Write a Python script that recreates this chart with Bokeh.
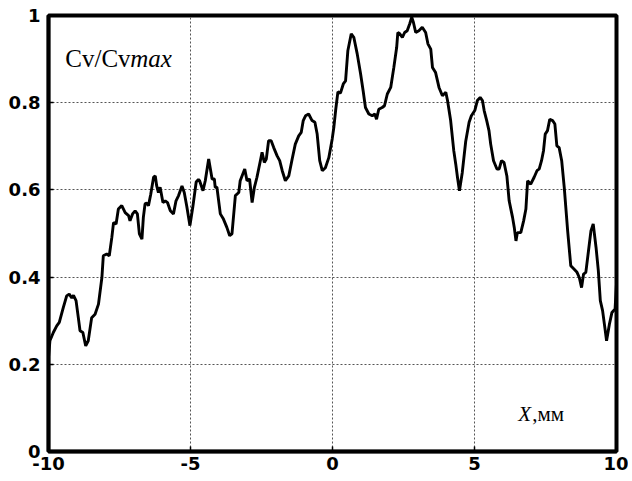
from bokeh.plotting import figure
from bokeh.models import Range1d, FixedTicker, Label
from bokeh.embed import file_html
from bokeh.resources import INLINE

x_mm = [-10, -9.95, -9.83, -9.71, -9.62, -9.48, -9.36, -9.27, -9.18, -9.12, -9.03, -8.95, -8.89, -8.79, -8.69, -8.60,
        -8.48, -8.36, -8.24, -8.12, -8.07, -7.95, -7.86, -7.77, -7.71, -7.62, -7.54, -7.42, -7.30, -7.18, -7.13, -7.04,
        -6.95, -6.87, -6.80, -6.71, -6.66, -6.60, -6.54, -6.48, -6.40, -6.30, -6.24, -6.19, -6.13, -6.07, -5.97, -5.89,
        -5.81, -5.71, -5.60, -5.51, -5.42, -5.30, -5.22, -5.13, -5.02, -4.92, -4.80, -4.72, -4.68,
        -4.56, -4.48, -4.36, -4.24, -4.16, -4.13, -4.07, -3.95, -3.84, -3.72, -3.62, -3.54, -3.42, -3.30, -3.25, -3.09,
        -3.01, -2.92, -2.83, -2.75, -2.66, -2.54, -2.48, -2.40, -2.33, -2.25, -2.16, -2.07, -1.95, -1.86, -1.77, -1.66,
        -1.54, -1.42, -1.31, -1.19, -1.10, -1.03, -0.95, -0.84, -0.72, -0.62, -0.54, -0.45, -0.36, -0.25, -0.13, -0.01,
        0.05, 0.11, 0.19, 0.28, 0.38, 0.46, 0.54, 0.66, 0.75, 0.87, 0.99, 1.08, 1.16, 1.28, 1.40, 1.49, 1.55, 1.63,
        1.75, 1.83, 1.93, 2.05, 2.16, 2.26, 2.30, 2.37, 2.46, 2.54, 2.63, 2.72, 2.79, 2.85, 2.93, 3.04, 3.16, 3.28,
        3.36, 3.46, 3.52, 3.63, 3.75, 3.87, 3.99, 4.05, 4.16, 4.27, 4.34, 4.40, 4.47, 4.57, 4.69, 4.81, 4.89, 5.01,
        5.10, 5.20, 5.28, 5.34, 5.43, 5.51, 5.57, 5.67, 5.79, 5.87, 5.95, 6.04, 6.14, 6.22, 6.34, 6.40, 6.46, 6.51,
        6.63, 6.73, 6.81, 6.87, 6.98, 7.10, 7.20, 7.28, 7.36, 7.43, 7.49, 7.57, 7.65, 7.75, 7.83, 7.90, 7.98, 8.07,
        8.16, 8.28, 8.39, 8.51, 8.61, 8.69, 8.77, 8.84, 8.92, 9.00, 9.10, 9.18, 9.28, 9.36, 9.43, 9.51, 9.59, 9.65,
        9.75, 9.84, 9.95, 10.0]

cv_ratio = [0.216, 0.254, 0.273, 0.288, 0.296, 0.330, 0.357, 0.361, 0.352, 0.358, 0.346, 0.307, 0.277, 0.273, 0.242, 0.254,
            0.307, 0.315, 0.338, 0.399, 0.449, 0.453, 0.449, 0.491, 0.525, 0.522, 0.556, 0.564, 0.548, 0.541, 0.529, 0.545,
            0.552, 0.545, 0.499, 0.487, 0.537, 0.568, 0.570, 0.564, 0.590, 0.629, 0.632, 0.609, 0.594, 0.606, 0.571, 0.575,
            0.571, 0.552, 0.545, 0.575, 0.587, 0.609, 0.594, 0.562, 0.518, 0.560, 0.618, 0.624, 0.621,
            0.598, 0.621, 0.671, 0.625, 0.625, 0.606, 0.606, 0.545, 0.533, 0.514, 0.495, 0.499, 0.587, 0.594, 0.621, 0.648,
            0.621, 0.625, 0.571, 0.606, 0.629, 0.667, 0.686, 0.663, 0.671, 0.713, 0.713, 0.697, 0.678, 0.667, 0.644, 0.621,
            0.632, 0.671, 0.705, 0.724, 0.732, 0.759, 0.770, 0.774, 0.759, 0.755, 0.728, 0.667, 0.644, 0.651, 0.674, 0.717,
            0.745, 0.782, 0.825, 0.822, 0.843, 0.850, 0.919, 0.958, 0.950, 0.912, 0.866, 0.827, 0.789, 0.774, 0.770, 0.774, 0.762, 0.785,
            0.789, 0.793, 0.820, 0.835, 0.881, 0.927, 0.961, 0.958, 0.950, 0.961, 0.965, 0.981, 0.996, 0.984, 0.961, 0.965, 0.973, 0.961,
            0.935, 0.923, 0.881, 0.869, 0.835, 0.816, 0.824, 0.805, 0.759, 0.690, 0.659, 0.629, 0.598, 0.640, 0.711, 0.755, 0.770, 0.782,
            0.805, 0.812, 0.805, 0.782, 0.759, 0.736, 0.705, 0.667, 0.648, 0.648, 0.667, 0.663, 0.632, 0.575, 0.537, 0.514, 0.483, 0.502,
            0.502, 0.529, 0.556, 0.621, 0.613, 0.629, 0.644, 0.648, 0.667, 0.690, 0.728, 0.736, 0.762, 0.759, 0.751, 0.701, 0.697, 0.667,
            0.606, 0.506, 0.426, 0.418, 0.411, 0.399, 0.376, 0.407, 0.411, 0.453, 0.506, 0.522, 0.468, 0.415, 0.346, 0.323, 0.284, 0.254,
            0.292, 0.319, 0.327, 0.385]

x_ticks = [-10, -5, 0, 5, 10]
x_tick_labels = ["-10", "-5", "0", "5", "10"]
y_ticks = [0, 0.2, 0.4, 0.6, 0.8, 1.0]
y_tick_labels = ["0", "0.2", "0.4", "0.6", "0.8", "1"]

p = figure(width=628, height=476, output_backend="svg", toolbar_location=None,
           x_range=Range1d(-10, 10), y_range=Range1d(0, 1),
           min_border_left=48, min_border_right=12, min_border_top=15, min_border_bottom=25)

p.line(x_mm, cv_ratio, line_color="black", line_width=2.9)

p.outline_line_color = "black"
p.outline_line_width = 4
p.outline_line_alpha = 1.0
p.background_fill_color = "white"
p.border_fill_color = "white"

p.xaxis.ticker = FixedTicker(ticks=x_ticks)
p.xaxis.major_label_overrides = dict(zip(x_ticks, x_tick_labels))
p.yaxis.ticker = FixedTicker(ticks=y_ticks)
p.yaxis.major_label_overrides = dict(zip(y_ticks, y_tick_labels))

for ax in (p.xaxis, p.yaxis):
    ax.axis_line_color = "black"
    ax.axis_line_width = 3.5
    ax.major_tick_in = 5
    ax.major_tick_out = 0
    ax.major_tick_line_color = "black"
    ax.major_tick_line_width = 1.5
    ax.minor_tick_line_color = None
    ax.major_label_text_font = "DejaVu Sans"
    ax.major_label_text_font_size = "18px"
    ax.major_label_text_font_style = "bold"
    ax.major_label_text_color = "black"
p.xaxis.major_label_standoff = 5
p.yaxis.major_label_standoff = 8

p.grid.grid_line_color = "#555555"
p.grid.grid_line_dash = "2 2"
p.grid.grid_line_width = 1

serif = "Liberation Serif"
p.add_layout(Label(x=-9.41, y=0.901, text="Cv/Cv", text_font=serif, text_font_size="25px",
                   text_color="black", text_baseline="alphabetic"))
p.add_layout(Label(x=-9.41, y=0.901, x_offset=65, text="max", text_font=serif, text_font_size="25px",
                   text_font_style="italic", text_color="black", text_baseline="alphabetic"))
p.add_layout(Label(x=6.54, y=0.0865, text="X", text_font=serif, text_font_size="21px",
                   text_font_style="italic", text_color="black", text_baseline="alphabetic"))
p.add_layout(Label(x=6.54, y=0.0865, x_offset=14, text=",мм", text_font=serif, text_font_size="21px",
                   text_color="black", text_baseline="alphabetic"))

open("out.html", "w").write(file_html(p, INLINE))
